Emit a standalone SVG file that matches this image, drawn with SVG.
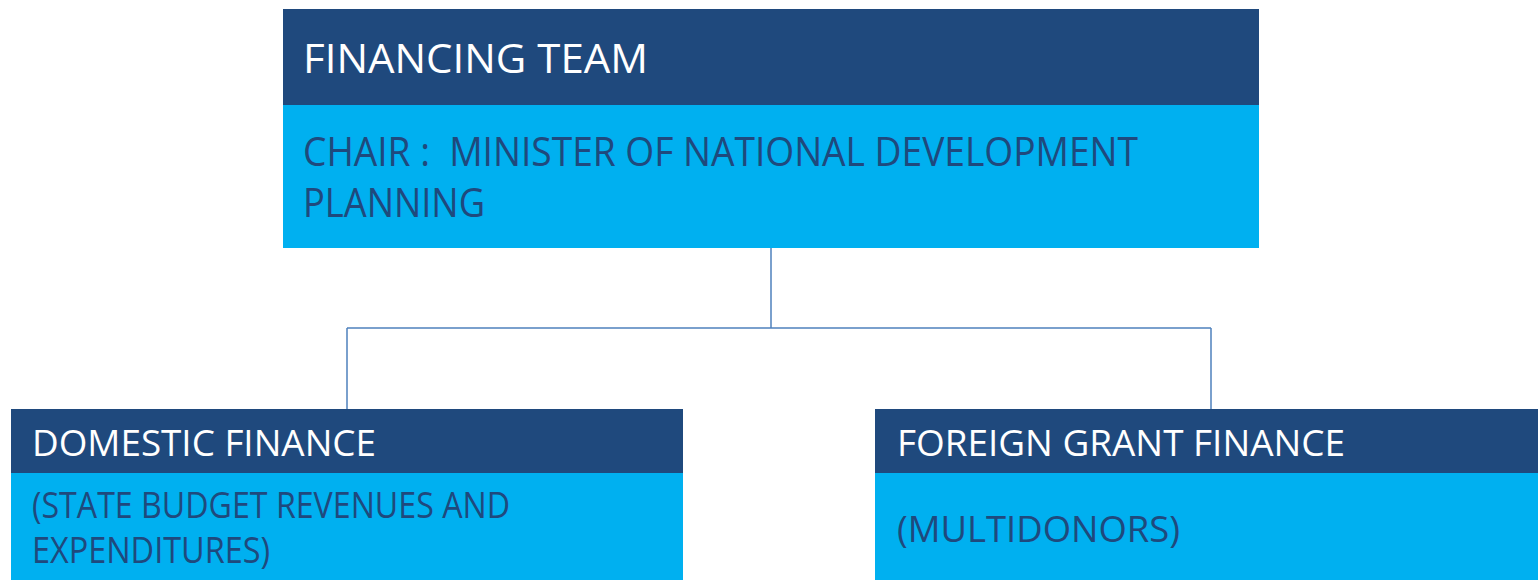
<svg xmlns="http://www.w3.org/2000/svg" width="1538" height="580" viewBox="0 0 1538 580">
<style>
.hd{fill:#1f497d}
.bd{fill:#00b0f0}
.t1{font-family:"Open Sans","Noto Sans",sans-serif;fill:#ffffff}
.t2{font-family:"Open Sans","Noto Sans",sans-serif;fill:#1f497d;white-space:pre}
.big{font-size:40px}
.sm{font-size:36px}
.cn{fill:none;stroke:#4f81bd;stroke-width:1.5}
</style>
<rect width="1538" height="580" fill="#ffffff"/>
<g id="connectors">
<path class="cn" d="M771 248 V328 M347 328 H1211 M347 328 V409 M1211 328 V409"/>
</g>
<g id="financing-team">
<rect class="hd" x="283" y="9" width="976" height="96"/>
<rect class="bd" x="283" y="105" width="976" height="143"/>
<text class="t1 big" x="303" y="73" textLength="345" lengthAdjust="spacingAndGlyphs">FINANCING TEAM</text>
<text class="t2 big" x="303" y="166" textLength="835" lengthAdjust="spacingAndGlyphs" xml:space="preserve">CHAIR :  MINISTER OF NATIONAL DEVELOPMENT</text>
<text class="t2 big" x="303" y="217" textLength="182" lengthAdjust="spacingAndGlyphs">PLANNING</text>
</g>
<g id="domestic-finance">
<rect class="hd" x="11" y="409" width="672" height="64"/>
<rect class="bd" x="11" y="473" width="672" height="107"/>
<text class="t1 sm" x="32" y="456" textLength="344" lengthAdjust="spacingAndGlyphs">DOMESTIC FINANCE</text>
<text class="t2 sm" x="32" y="518" textLength="478" lengthAdjust="spacingAndGlyphs">(STATE BUDGET REVENUES AND</text>
<text class="t2 sm" x="32" y="563" textLength="238" lengthAdjust="spacingAndGlyphs">EXPENDITURES)</text>
</g>
<g id="foreign-grant-finance">
<rect class="hd" x="875" y="409" width="663" height="64"/>
<rect class="bd" x="875" y="473" width="663" height="107"/>
<text class="t1 sm" x="897" y="456" textLength="448" lengthAdjust="spacingAndGlyphs">FOREIGN GRANT FINANCE</text>
<text class="t2 sm" x="897" y="542" textLength="283" lengthAdjust="spacingAndGlyphs">(MULTIDONORS)</text>
</g>
</svg>
